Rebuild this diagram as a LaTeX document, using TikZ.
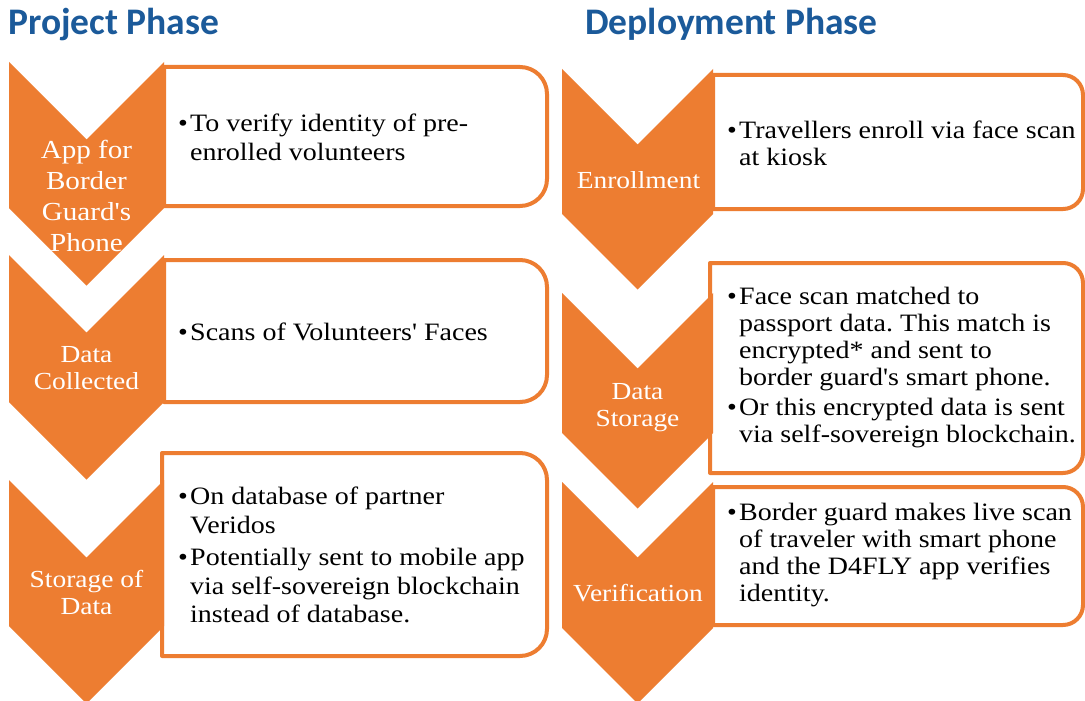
\documentclass[tikz,border=0pt]{standalone}
\usepackage{fontspec}
\setmainfont{Liberation Serif}[FakeStretch=1.12, Ligatures=TeXOff]
\newfontfamily\headfont{Carlito}
\definecolor{accent}{HTML}{ED7D31}
\definecolor{headblue}{HTML}{1B5A9A}

% bullet and continuation indent for the description lists
\newcommand\bitem{\makebox[12pt][l]{•}}
\newcommand\cont{\hspace*{12pt}}

% chevron: centre x, top y, half width, height of the straight sides
\newcommand\chevron[4]{%
  \fill[accent] (#1-#3,#2) -- (#1,#2+#3) -- (#1+#3,#2) -- (#1+#3,#2+#4)
    -- (#1,#2+#4+#3) -- (#1-#3,#2+#4) -- cycle;}

% description box with rounded right-hand corners: x0, y0, x1, y1, radius
\newcommand\stagebox[5]{%
  \path[phasebox] (#1,#2) -- (#3-#5,#2) arc[start angle=-90,end angle=0,radius=#5]
    -- (#3,#4-#5) arc[start angle=0,end angle=90,radius=#5] -- (#1,#4) -- cycle;}

\begin{document}
\frenchspacing
\begin{tikzpicture}[x=1pt,y=-1pt,
  phasebox/.style={draw=accent, line width=4pt, fill=white, line join=round},
  chevlabel/.style={text=white, align=center, inner sep=0, font=\fontsize{24.5}{27}\selectfont},
  bodytext/.style={anchor=west, align=left, inner sep=0, text=black, font=\fontsize{25}{28.5}\selectfont},
  bodytextr/.style={bodytext, font=\fontsize{25}{27}\selectfont},
  heading/.style={anchor=base west, inner sep=0, text=headblue, font=\headfont\bfseries\fontsize{37.5}{40}\selectfont}]

\fill[white] (0,0) rectangle (1085,701);
\useasboundingbox (0,0) rectangle (1085,701);

% headings
\node[heading] (h1) at (8,35) {Project Phase};
\node[heading] (h2) at (585,35) {Deployment Phase};

% description boxes, project phase
\stagebox{164}{67}{547}{206}{27}
\stagebox{164}{260}{547}{402}{27}
\stagebox{162}{453}{547}{656}{27}
% description boxes, deployment phase
\stagebox{713}{75}{1083}{209}{20}
\stagebox{710}{263}{1083}{473}{20}
\stagebox{713}{487}{1083}{625}{20}

% chevrons
\chevron{86.5}{62}{77.5}{146}
\chevron{86.5}{255}{77.5}{147}
\chevron{86.5}{480}{77.5}{146}
\chevron{637.5}{69}{75.5}{145}
\chevron{637.5}{293}{75.5}{140}
\chevron{637.5}{482}{75.5}{146}

% chevron labels
\node[chevlabel, font=\fontsize{26}{31}\selectfont] (c1) at (86.5,196) {App for\\Border\\Guard's\\Phone};
\node[chevlabel] (c2) at (86.5,368.5) {Data\\Collected};
\node[chevlabel] (c3) at (86.5,592) {Storage of\\Data};
\node[chevlabel] (c4) at (638.5,180) {Enrollment};
\node[chevlabel] (c5) at (637.5,407.5) {Data\\Storage};
\node[chevlabel] (c6) at (638,593) {Verification};

% box texts, project phase
\node[bodytext] (t1) at (178,137.5) {\bitem To verify identity of pre-\\\cont enrolled volunteers};
\node[bodytext] (t2) at (178,332) {\bitem Scans of Volunteers' Faces};
\node[bodytext] (t3) at (178,555) {\bitem On database of partner\\\cont Veridos\\[4pt]
  \bitem Potentially sent to mobile app\\\cont via self-sovereign blockchain\\\cont instead of database.};

% box texts, deployment phase
\node[bodytextr] (t4) at (727,143.5) {\bitem Travellers enroll via face scan\\\cont at kiosk};
\node[bodytextr] (t5) at (727,368) {\bitem Face scan matched to\\\cont passport data. This match is\\\cont encrypted* and sent to\\\cont border guard's smart phone.\\[3pt]
  \bitem Or this encrypted data is sent\\\cont via self-sovereign blockchain.};
\node[bodytextr] (t6) at (727,555) {\bitem Border guard makes live scan\\\cont of traveler with smart phone\\\cont and the D4FLY app verifies\\\cont identity.};
\end{tikzpicture}
\end{document}
